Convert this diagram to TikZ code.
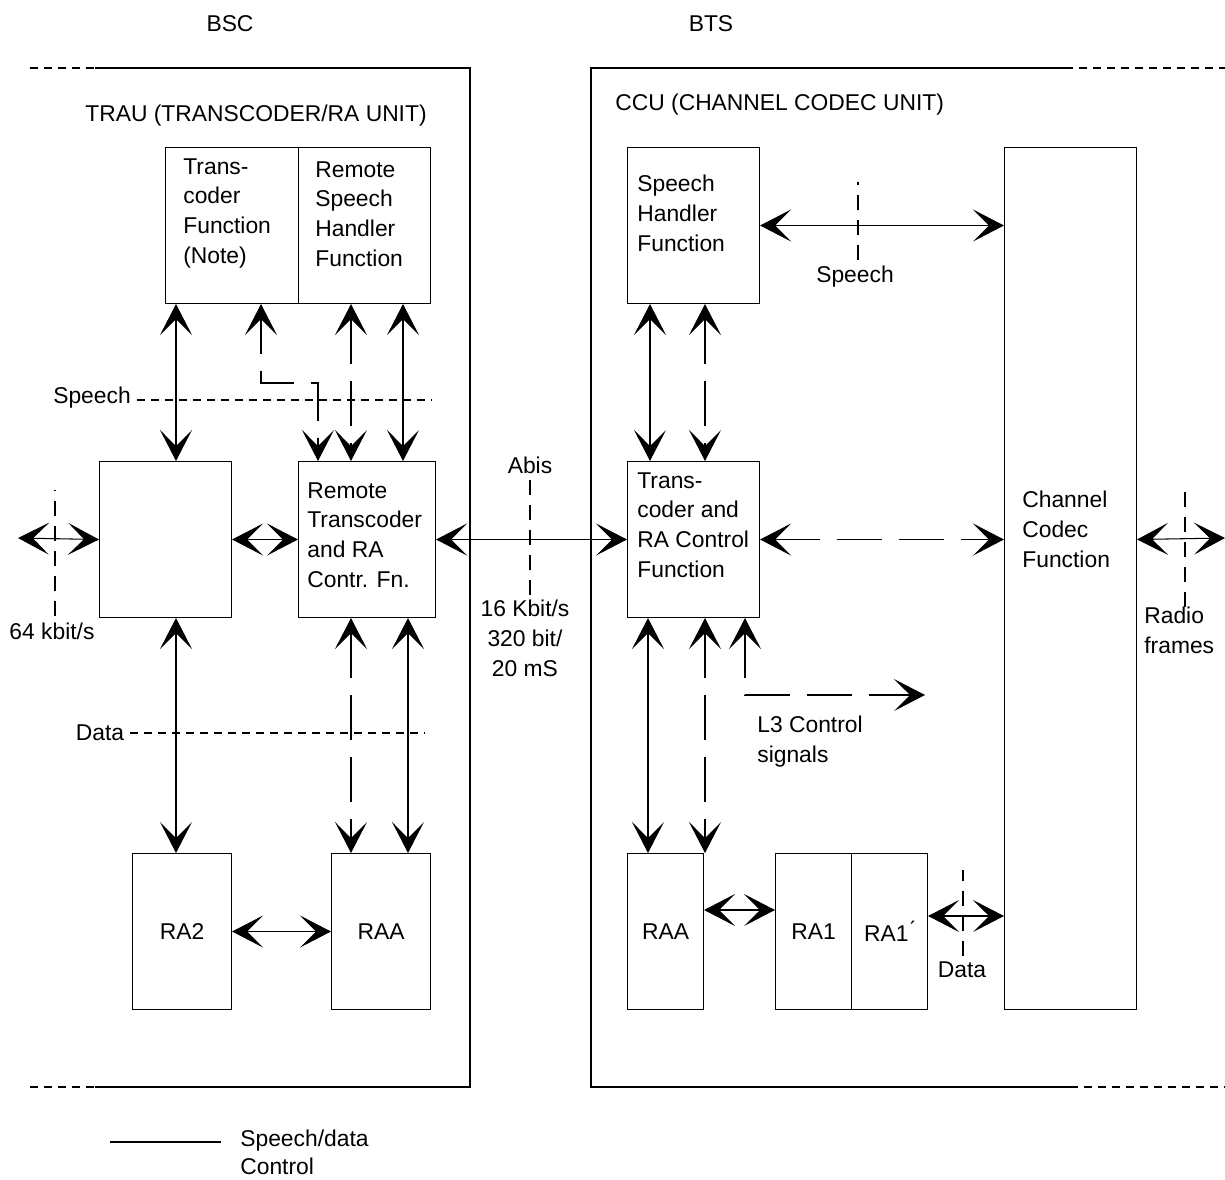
\documentclass[tikz,border=0pt]{standalone}
\usepackage{fontspec}
\setmainfont{Liberation Sans}
\usetikzlibrary{arrows.meta,calc,positioning}

\begin{document}
\begin{tikzpicture}[x=0.02cm, y=-0.02cm,
    every node/.style={font=\fontsize{13}{17}\selectfont},
    box/.style={draw, line width=0.6pt, inner sep=0pt, anchor=north west},
    txt/.style={align=left, inner sep=0pt, anchor=north west},
    >={Stealth[length=0.62cm, width=0.64cm, inset=0.32cm]},
    dbl/.style={line width=0.6pt, <->},
    ctl/.style={dbl, dash pattern=on 0.9cm off 0.34cm},
    sep/.style={line width=0.6pt, dash pattern=on 0.16cm off 0.12cm},
    tick/.style={line width=0.6pt, dash pattern=on 0.3cm off 0.2cm}]
    \useasboundingbox (0,0) rectangle (1225,1180);

    \node (bsc) at (230,24) {BSC};
    \node (bts) at (711,24) {BTS};

    \draw[line width=0.6pt] (95,68) -- (470,68) -- (470,1087) -- (95,1087);
    \draw[sep] (30,68) -- (95,68);
    \draw[sep] (30,1087) -- (95,1087);
    \draw[line width=0.6pt] (1065,68) -- (591,68) -- (591,1087) -- (1070,1087);
    \draw[sep] (1065,68) -- (1225,68);
    \draw[sep] (1070,1087) -- (1225,1087);

    \node[anchor=west, inner sep=0pt] (trau) at (85,116) {TRAU (TRANSCODER/RA UNIT)};
    \node[anchor=west, inner sep=0pt] (ccu) at (615,105) {CCU (CHANNEL CODEC UNIT)};

    \node[box, minimum width=2.66cm, minimum height=3.12cm] (tcf) at (165,147) {};
    \node[box, minimum width=2.64cm, minimum height=3.12cm] (rsh) at (298,147) {};
    \node[box, minimum width=2.64cm, minimum height=3.12cm] (ifc) at (99,461) {};
    \node[box, minimum width=2.74cm, minimum height=3.12cm] (rtc) at (298,461) {};
    \node[box, minimum width=1.98cm, minimum height=3.12cm] (ra2) at (132,853) {RA2};
    \node[box, minimum width=1.98cm, minimum height=3.12cm] (raab) at (331,853) {RAA};
    \node[box, minimum width=2.64cm, minimum height=3.12cm] (shf) at (627,147) {};
    \node[box, minimum width=2.64cm, minimum height=3.12cm] (trc) at (627,461) {};
    \node[box, minimum width=2.64cm, minimum height=17.24cm] (ccf) at (1004,147) {};
    \node[box, minimum width=1.52cm, minimum height=3.12cm] (raat) at (627,853) {RAA};
    \node[box, minimum width=1.52cm, minimum height=3.12cm] (ra1) at (775,853) {RA1};
    \node[box, minimum width=1.52cm, minimum height=3.12cm] (ra1p) at (851,853) {RA1\'{}};

    \node[txt] (tcf-t) at (183,158) {Trans-\\coder\\Function\\(Note)};
    \node[txt] (rsh-t) at (315,161) {Remote\\Speech\\Handler\\Function};
    \node[txt] (rtc-t) at (307,482) {Remote\\Transcoder\\and RA\\Contr. Fn.};
    \node[txt] (shf-t) at (637,175) {Speech\\Handler\\Function};
    \node[txt] (trc-t) at (637,472) {Trans-\\coder and\\RA Control\\Function};
    \node[txt] (ccf-t) at (1022,491) {Channel\\Codec\\Function};

    \draw[dbl] (tcf.south -| 176,0) -- (ifc.north -| 176,0);
    \draw[ctl, dash phase=0.2cm] (tcf.south -| 261,0) -- (261,383) -- (318,383) -- (rtc.north -| 318,0);
    \draw[ctl] (rsh.south -| 351,0) -- (rtc.north -| 351,0);
    \draw[dbl] (rsh.south -| 403,0) -- (rtc.north -| 403,0);

    \node (spl) at (92,398) {Speech};
    \coordinate (spe) at (432,400);
    \draw[sep] (spl.east |- spe) -- (spe);

    \coordinate (lin) at (18,538);
    \draw[dbl] (lin) -- (ifc.west);
    \node (kb) at (52,631) {64 kbit/s};
    \draw[tick] (kb.north -| 55,0) -- (55,490);

    \draw[dbl] (ifc.east) -- (rtc.west);
    \draw[dbl] (rtc.east) -- (trc.west);
    \node (abis) at (530,465) {Abis};
    \draw[tick] (abis.south) -- (530,595);
    \node[align=center, inner sep=0pt] (rate) at (525,638) {16 Kbit/s\\320 bit/\\20 mS};

    \draw[dbl] (ifc.south -| 176,0) -- (ra2.north -| 176,0);
    \draw[ctl] (rtc.south -| 351,0) -- (raab.north -| 351,0);
    \draw[dbl] (rtc.south -| 408,0) -- (raab.north -| 408,0);

    \node (dtl) at (100,733) {Data};
    \coordinate (dte) at (425,733);
    \draw[sep] (dtl.east |- dte) -- (dte);

    \draw[dbl] (ra2.east) -- (raab.west);

    \draw[dbl] (shf.south -| 650,0) -- (trc.north -| 650,0);
    \draw[ctl] (shf.south -| 705,0) -- (trc.north -| 705,0);
    \draw[dbl] (shf.east) -- (ccf.west |- shf.east);
    \node (sps) at (855,277) {Speech};
    \draw[tick] (sps.north -| 858,0) -- (858,182);

    \draw[ctl] (trc.east) -- (ccf.west |- trc.east);
    \draw[dbl] (trc.south -| 648,0) -- (raat.north -| 648,0);
    \draw[ctl] (trc.south -| 705,0) -- (raat.north -| 705,0);
    \coordinate (l3e) at (925,695);
    \draw[ctl] (trc.south -| 745,0) -- (745,695) -- (l3e);
    \node[txt] (l3) at (757,716) {L3 Control\\signals};

    \draw[dbl] (raat.east |- 0,910) -- (ra1.west |- 0,910);
    \draw[dbl] (ra1p.east |- 0,916) -- (ccf.west |- 0,916);
    \node (dtr) at (962,970) {Data};
    \draw[tick] (dtr.north -| 963,0) -- (963,870);

    \coordinate (rout) at (1225,538);
    \draw[dbl] (ccf.east |- trc.east) -- (rout);
    \node[txt] (rf) at (1144,607) {Radio\\frames};
    \draw[tick] (rf.north -| 1185,0) -- (1185,488);

    \coordinate (lg1) at (110,1142);
    \coordinate (lg2) at (221,1142);
    \draw[line width=0.6pt] (lg1) -- (lg2);
    \node[anchor=west, inner sep=0pt] (lgs) at (240,1141) {Speech/data};
    \node[anchor=west, inner sep=0pt] (lgc) at (240,1166) {Control};
\end{tikzpicture}
\end{document}
